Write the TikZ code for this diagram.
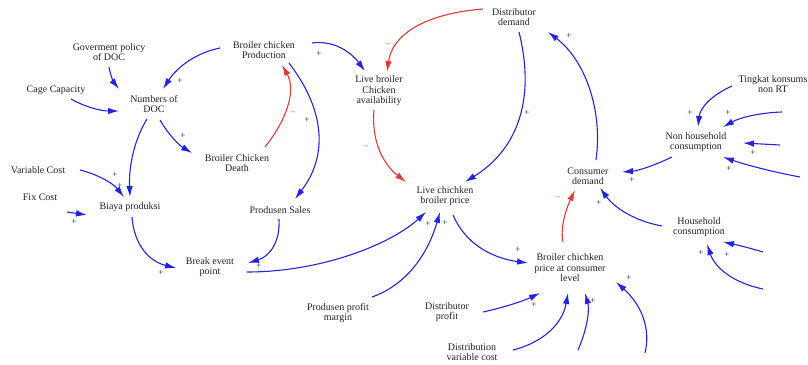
\documentclass[tikz,border=0pt]{standalone}
\usepackage{fontspec}
\setmainfont{Liberation Serif}
\usetikzlibrary{arrows.meta,calc}
\definecolor{cblue}{RGB}{35,35,225}
\definecolor{cred}{RGB}{232,55,55}
\definecolor{ctext}{RGB}{35,35,35}
\begin{document}
\begin{tikzpicture}[x=1pt,y=-1pt,
  varnode/.style={font=\fontsize{10}{10.5}\selectfont, text=ctext, align=center, inner sep=0pt},
  posarrow/.style={draw=cblue, line width=1.1pt, -{Latex[length=11pt,width=6.5pt]}},
  negarrow/.style={draw=cred, line width=1.1pt, -{Latex[length=11pt,width=6.5pt]}},
  plussign/.style={font=\fontsize{9}{9}\selectfont, text=ctext, inner sep=0pt},
  minussign/.style={font=\fontsize{9}{9}\selectfont, text=cred, inner sep=0pt}]
\useasboundingbox (0,0) rectangle (808,364);
% nodes
\node[varnode] (gov) at (109,52) {Goverment policy\\of DOC};
\node[varnode] (cage) at (56,90) {Cage Capacity};
\node[varnode] (num) at (154,104) {Numbers of\\DOC};
\node[varnode] (prod) at (264,50) {Broiler chicken\\Production};
\node[varnode] (death) at (237,163) {Broiler Chicken\\Death};
\node[varnode] (var) at (38,170) {Variable Cost};
\node[varnode] (fix) at (40,197) {Fix Cost};
\node[varnode] (biaya) at (130,207) {Biaya produksi};
\node[varnode] (sales) at (280,210) {Produsen Sales};
\node[varnode] (bep) at (210,267) {Break event\\point};
\node[varnode] (avail) at (379,91) {Live broiler\\Chicken\\availability};
\node[varnode] (dd) at (514,17) {Distributor\\demand};
\node[varnode] (price) at (445,196) {Live chichken\\broiler price};
\node[varnode] (ppm) at (338,313) {Produsen profit\\margin};
\node[varnode] (dp) at (447,312) {Distributor\\profit};
\node[varnode] (dvc) at (472,352) {Distribution\\variable cost};
\node[varnode] (cpl) at (570,268) {Broiler chichken\\price at consumer\\level};
\node[varnode] (cd) at (588,176) {Consumer\\demand};
\node[varnode] (nh) at (696,142) {Non household\\consumption};
\node[varnode] (tk) at (773,84) {Tingkat konsums\\non RT};
\node[varnode] (hh) at (699,227) {Household\\consumption};
% free ends
\coordinate (f1) at (578,350);
\coordinate (f2) at (645,353);
\coordinate (f3) at (782,112);
\coordinate (f4) at (780,145);
\coordinate (f5) at (800,177);
\coordinate (f6) at (763,252);
\coordinate (f7) at (763,289);
% connectors
\draw[posarrow] ($(gov)+(0,15)$) .. controls (110.3,75) and (113.7,82.3) .. ($(num)+(-35,-15)$);
\draw[posarrow] ($(cage)+(15,9)$) .. controls (85,107) and (101,111) .. ($(num)+(-35,7)$);
\draw[posarrow] ($(prod)+(-44,-2)$) .. controls (196.7,52.7) and (177.7,66.3) .. ($(num)+(9,-15)$);
\draw[posarrow] ($(num)+(6,16)$) .. controls (168,134) and (178.7,145) .. ($(death)+(-45,-10)$);
\draw[posarrow] ($(num)+(-7,15)$) .. controls (134.3,139.7) and (128.7,165.7) .. ($(biaya)+(0,-10)$);
\draw[posarrow] ($(var)+(42,0)$) .. controls (98.7,174.7) and (113.3,183.7) .. ($(biaya)+(-6,-10)$);
\draw[posarrow] ($(fix)+(27,15)$) -- ($(biaya)+(-43,8)$);
\draw[posarrow] ($(biaya)+(2,10)$) .. controls (134,244.3) and (148.7,261.3) .. ($(bep)+(-34,1)$);
\draw[negarrow] ($(death)+(28,-16)$) .. controls (289.7,115.7) and (295.3,88.3) .. ($(prod)+(18,15)$);
\draw[posarrow] ($(prod)+(25,13)$) .. controls (325.7,111) and (327.7,156.3) .. ($(sales)+(15,-11)$);
\draw[posarrow] ($(sales)+(-1,9)$) .. controls (280.3,241.7) and (270,256.3) .. ($(bep)+(38,-4)$);
\draw[posarrow] ($(bep)+(37,5)$) .. controls (320,272) and (390,245) .. ($(price)+(-19,16)$);
\draw[posarrow] ($(prod)+(48,-7)$) .. controls (331.3,40.3) and (349,49.7) .. ($(avail)+(-14,-20)$);
\draw[negarrow] ($(dd)+(-31,-8)$) .. controls (424.3,13.7) and (392.3,34.7) .. ($(avail)+(8,-19)$);
\draw[negarrow] ($(avail)+(-5,19)$) .. controls (371.3,139.3) and (382,163.3) .. ($(price)+(-39,-14)$);
\draw[posarrow] ($(dd)+(5,15)$) .. controls (535.7,99.3) and (517.7,149.3) .. ($(price)+(20,-14)$);
\draw[posarrow] ($(ppm)+(34,-16)$) .. controls (404,285.7) and (426.7,257.7) .. ($(price)+(-5,16)$);
\draw[posarrow] ($(price)+(8,19)$) .. controls (464.3,241.7) and (489.3,257.7) .. ($(cpl)+(-42,-5)$);
\draw[posarrow] ($(dp)+(36,0)$) .. controls (504.3,307.3) and (523.3,301) .. ($(cpl)+(-30,25)$);
\draw[posarrow] ($(dvc)+(41,-2)$) .. controls (544.3,342) and (562.7,323) .. ($(cpl)+(-2,25)$);
\draw[posarrow] (f1) .. controls (587.3,328.7) and (589.7,309.7) .. ($(cpl)+(15,25)$);
\draw[posarrow] (f2) .. controls (651,328.3) and (641.3,304.7) .. ($(cpl)+(46,14)$);
\draw[negarrow] ($(cpl)+(-7,-26)$) .. controls (560.3,230) and (564.3,212.7) .. ($(cd)+(-13,14)$);
\draw[posarrow] ($(hh)+(-37,-1)$) .. controls (636,221.3) and (615.3,208.7) .. ($(cd)+(12,12)$);
\draw[posarrow] ($(nh)+(-24,15)$) .. controls (655.3,165) and (638.7,170.7) .. ($(cd)+(34,-4)$);
\draw[posarrow] ($(cd)+(8,-16)$) .. controls (603,110) and (585,60) .. ($(dd)+(34,15)$);
\draw[posarrow] ($(tk)+(-41,2)$) .. controls (711.3,95.3) and (700,108) .. ($(nh)+(2,-15)$);
\draw[posarrow] (f3) .. controls (759.3,112.7) and (739.7,117.7) .. ($(nh)+(27,-15)$);
\draw[posarrow] (f4) -- ($(nh)+(47,1)$);
\draw[posarrow] (f5) .. controls (772,171.7) and (746.3,165) .. ($(nh)+(27,15)$);
\draw[posarrow] (f6) .. controls (749.7,248) and (736.3,244.7) .. ($(hh)+(24,15)$);
\draw[posarrow] (f7) .. controls (733.7,283) and (715,268) .. ($(hh)+(8,17)$);
% polarity signs
\foreach \p [count=\i] in {(180,81),(183,136),(115,175),(120,186),(74,222),(161,273),(307,120),(259,266),(428,224),(319,54),(527,113),(445,223),(518,250),(534,305),(593,301),(629,278),(599,203),(632,180),(569,36),(690,113),(728,113),(753,153),(729,169),(727,255),(701,253)}
  \node[plussign] (pl\i) at \p {+};
\foreach \p [count=\i] in {(293,113),(388,45),(366,147),(558,198)}
  \node[minussign] (mi\i) at \p {\textendash};
\end{tikzpicture}
\end{document}
